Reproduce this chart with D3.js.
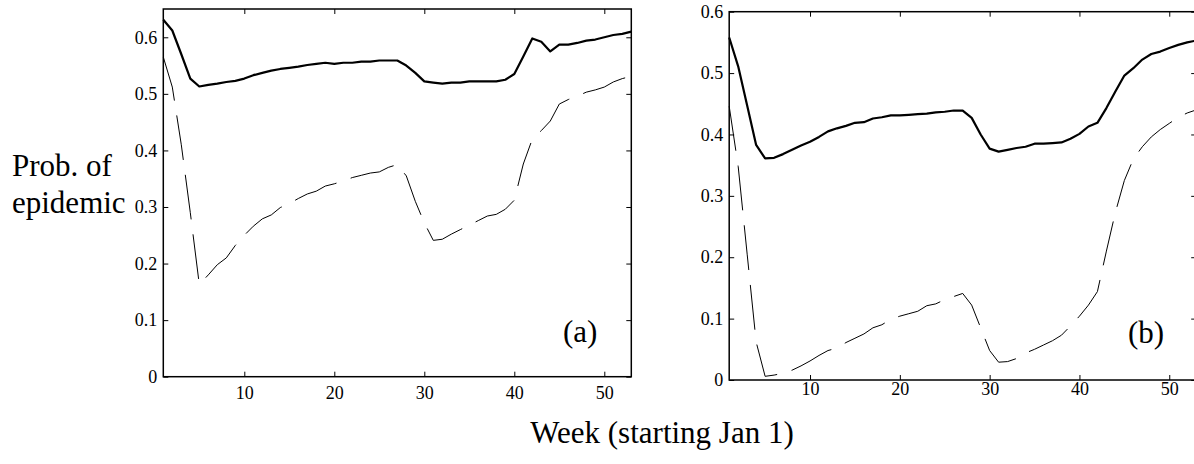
<!DOCTYPE html>
<html>
<head>
<meta charset="utf-8">
<script src="https://cdn.jsdelivr.net/npm/d3@7"></script>
<style>
  body { margin: 0; background: #fff; }
  svg { display: block; }
  text { font-family: "Liberation Serif", "Times New Roman", Times, serif; fill: #000; }
</style>
</head>
<body>
<svg id="chart" width="1194" height="464"></svg>
<script>
// Weekly probability of an epidemic, weeks 1..53
const weeks = d3.range(1, 54);

// Panel (a)
const solidA = [
  0.631, 0.612, 0.570, 0.527, 0.513, 0.516, 0.518, 0.521, 0.523, 0.527,
  0.533, 0.537, 0.541, 0.544, 0.546, 0.548, 0.551, 0.553, 0.555, 0.553,
  0.555, 0.555, 0.557, 0.557, 0.559, 0.559, 0.559, 0.550, 0.537, 0.522,
  0.520, 0.518, 0.520, 0.520, 0.522, 0.522, 0.522, 0.522, 0.525, 0.535,
  0.566, 0.598, 0.592, 0.575, 0.587, 0.587, 0.590, 0.594, 0.596, 0.600,
  0.604, 0.606, 0.610
];
const dashedA = [
  0.565, 0.512, 0.410, 0.290, 0.163, 0.180, 0.198, 0.210, 0.232, 0.250,
  0.266, 0.279, 0.286, 0.299, 0.306, 0.315, 0.323, 0.328, 0.337, 0.341,
  0.346, 0.352, 0.356, 0.360, 0.362, 0.370, 0.375, 0.355, 0.310, 0.272,
  0.241, 0.243, 0.252, 0.260, 0.268, 0.276, 0.284, 0.287, 0.296, 0.312,
  0.376, 0.420, 0.435, 0.452, 0.482, 0.490, 0.496, 0.503, 0.507, 0.512,
  0.521, 0.527, 0.531
];

// Panel (b)
const solidB = [
  0.558, 0.511, 0.447, 0.383, 0.361, 0.362, 0.368, 0.375, 0.382, 0.388,
  0.396, 0.405, 0.410, 0.414, 0.419, 0.420, 0.426, 0.428, 0.431, 0.431,
  0.432, 0.433, 0.434, 0.436, 0.437, 0.439, 0.439, 0.427, 0.400, 0.377,
  0.372, 0.375, 0.378, 0.380, 0.385, 0.385, 0.386, 0.387, 0.393, 0.401,
  0.413, 0.419, 0.443, 0.470, 0.496, 0.508, 0.522, 0.531, 0.535, 0.541,
  0.546, 0.550, 0.553
];
const dashedB = [
  0.446, 0.348, 0.205, 0.062, 0.006, 0.008, 0.011, 0.016, 0.023, 0.031,
  0.040, 0.048, 0.052, 0.061, 0.068, 0.075, 0.085, 0.090, 0.099, 0.104,
  0.108, 0.112, 0.121, 0.124, 0.131, 0.136, 0.141, 0.122, 0.085, 0.048,
  0.029, 0.030, 0.035, 0.044, 0.050, 0.057, 0.064, 0.073, 0.088, 0.104,
  0.122, 0.144, 0.210, 0.273, 0.325, 0.360, 0.380, 0.396, 0.408, 0.418,
  0.428, 0.435, 0.440
];

// Axis ticks and their labels
const xTicks = [10, 20, 30, 40, 50];
const xTickLabels = ["10", "20", "30", "40", "50"];
const yTicks = [0, 0.1, 0.2, 0.3, 0.4, 0.5, 0.6];
const yTickLabels = ["0", "0.1", "0.2", "0.3", "0.4", "0.5", "0.6"];

const panelLabels = ["(a)", "(b)"];
const yTitleLines = ["Prob. of", "epidemic"];
const xTitle = "Week (starting Jan 1)";

// Layout of the two panels
const panels = [
  { label: panelLabels[0], solid: solidA, dashed: dashedA, yMax: 0.65,
    left: 163.3, right: 631.3, top: 9, bottom: 376.7, xPad: 9.5, labelX: 563, labelY: 342 },
  { label: panelLabels[1], solid: solidB, dashed: dashedB, yMax: 0.6,
    left: 729.2, right: 1196.2, top: 11.7, bottom: 380, xPad: 2, labelX: 1128, labelY: 343 }
];

const serif = "'Liberation Serif', 'Times New Roman', Times, serif";
const svg = d3.select("#chart");
svg.append("rect").attr("width", 1194).attr("height", 464).attr("fill", "#fff");

const tickFont = 18;

panels.forEach(p => {
  const x = d3.scaleLinear().domain([1, 53]).range([p.left, p.right]);
  const y = d3.scaleLinear().domain([0, p.yMax]).range([p.bottom, p.top]);
  const g = svg.append("g");

  const styleAxis = sel => {
    sel.attr("font-family", null).attr("font-size", null);
    sel.select(".domain").remove();
    sel.selectAll(".tick line").attr("stroke", "#000").attr("stroke-width", 1);
    sel.selectAll("text")
      .style("font-family", serif)
      .style("font-size", tickFont + "px")
      .attr("fill", "#000");
  };

  // bottom axis with labels
  g.append("g").attr("transform", `translate(0,${p.bottom})`)
    .call(d3.axisBottom(x).tickValues(xTicks)
      .tickFormat((d, i) => xTickLabels[i]).tickSizeInner(-5).tickSizeOuter(0).tickPadding(p.xPad))
    .call(styleAxis);
  // top axis, ticks only
  g.append("g").attr("transform", `translate(0,${p.top})`)
    .call(d3.axisTop(x).tickValues(xTicks).tickFormat("").tickSizeInner(-5).tickSizeOuter(0))
    .call(styleAxis);
  // left axis with labels
  g.append("g").attr("transform", `translate(${p.left},0)`)
    .call(d3.axisLeft(y).tickValues(yTicks)
      .tickFormat((d, i) => yTickLabels[i]).tickSizeInner(-5).tickSizeOuter(0).tickPadding(6))
    .call(styleAxis);
  // right axis, ticks only
  g.append("g").attr("transform", `translate(${p.right},0)`)
    .call(d3.axisRight(y).tickValues(yTicks).tickFormat("").tickSizeInner(-5).tickSizeOuter(0))
    .call(styleAxis);

  // frame
  g.append("rect")
    .attr("x", p.left).attr("y", p.top)
    .attr("width", p.right - p.left).attr("height", p.bottom - p.top)
    .attr("fill", "none").attr("stroke", "#000").attr("stroke-width", 1.5);

  const line = vals => d3.line().x((d, i) => x(weeks[i])).y(d => y(d))(vals);

  g.append("path").attr("d", line(p.dashed))
    .attr("fill", "none").attr("stroke", "#000").attr("stroke-width", 1)
    .attr("stroke-dasharray", "45,15");
  g.append("path").attr("d", line(p.solid))
    .attr("fill", "none").attr("stroke", "#000").attr("stroke-width", 2.2)
    .attr("stroke-linejoin", "round");

  g.append("text").attr("x", p.labelX).attr("y", p.labelY)
    .style("font-family", serif).style("font-size", "31px").text(p.label);
});

// y title
svg.append("text").attr("x", 12).attr("y", 176)
  .style("font-family", serif).style("font-size", "31px").text(yTitleLines[0]);
svg.append("text").attr("x", 12).attr("y", 213)
  .style("font-family", serif).style("font-size", "31px").text(yTitleLines[1]);
// x title
svg.append("text").attr("x", 662).attr("y", 443).attr("text-anchor", "middle")
  .style("font-family", serif).style("font-size", "31px").text(xTitle);
</script>
</body>
</html>
